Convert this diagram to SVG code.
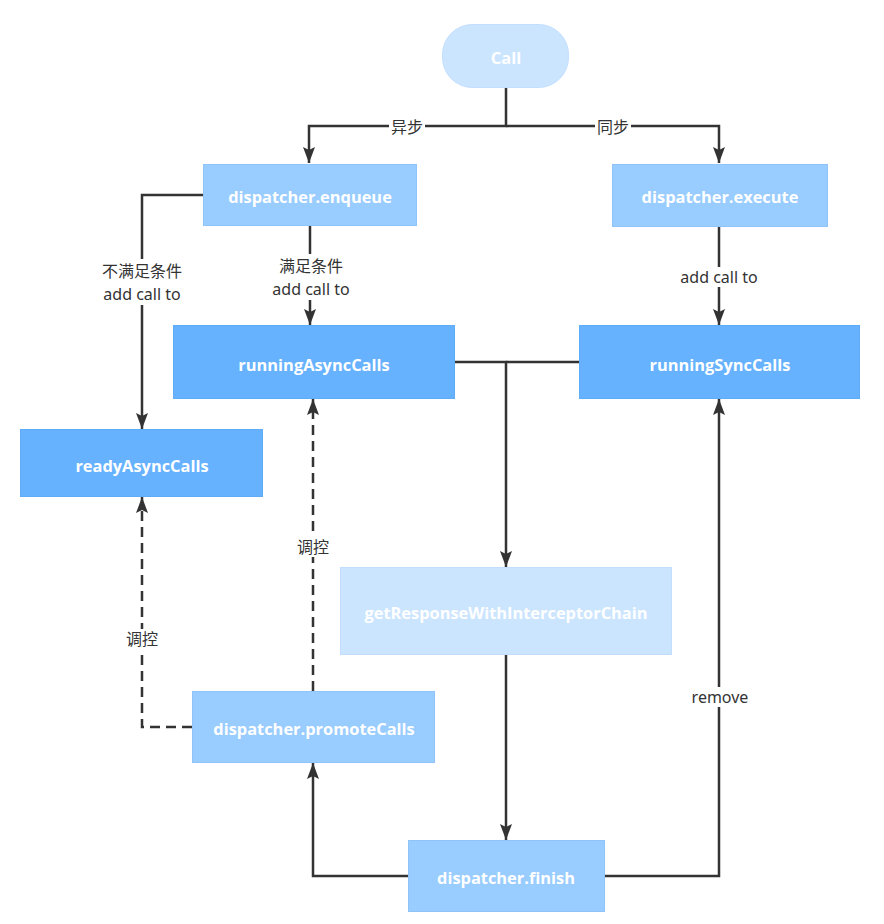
<svg xmlns="http://www.w3.org/2000/svg" width="884" height="924" viewBox="0 0 884 924">
<style>
.node text{font-family:"Open Sans","Liberation Sans",sans-serif;font-weight:bold;font-size:16.4px;fill:#ffffff;text-anchor:middle;dominant-baseline:central}
.n1{fill:#cce5ff;stroke:#c2deff;stroke-width:1}
.n2{fill:#99ccff;stroke:#8fc4fb;stroke-width:1}
.n3{fill:#66b2ff;stroke:#5eabf8;stroke-width:1}
.edge{fill:none;stroke:#333333;stroke-width:2.5}
.dash{stroke-dasharray:10 6}
.lbl{font-family:"Noto Sans","Noto Sans CJK SC","Liberation Sans",sans-serif;font-size:16px;fill:#333333;text-anchor:middle;dominant-baseline:central}
.lblbg{fill:#ffffff}
</style>
<defs>
<marker id="arr" viewBox="0 0 16 12" refX="16" refY="6" markerWidth="16" markerHeight="12" markerUnits="userSpaceOnUse" orient="auto">
<path d="M0,0 L16,6 L0,12 L3,6 Z" fill="#333333"/>
</marker>
</defs>
<rect width="884" height="924" fill="#ffffff"/>
<g id="connectors">
<path class="edge" d="M506,88 V126 H309 V163" marker-end="url(#arr)"/>
<path class="edge" d="M506,126 H719 V163" marker-end="url(#arr)"/>
<path class="edge" d="M203,195 H142 V429" marker-end="url(#arr)"/>
<path class="edge" d="M310,226 V325" marker-end="url(#arr)"/>
<path class="edge" d="M719,227 V325" marker-end="url(#arr)"/>
<path class="edge" d="M455,362 H506 V567" marker-end="url(#arr)"/>
<path class="edge" d="M580,362 H506"/>
<path class="edge" d="M506,655 V840" marker-end="url(#arr)"/>
<path class="edge" d="M408,876 H313 V763" marker-end="url(#arr)"/>
<path class="edge" d="M604,876 H719 V399" marker-end="url(#arr)"/>
<path class="edge dash" d="M192,727 H142 V497" marker-end="url(#arr)"/>
<path class="edge dash" d="M313,691 V399" marker-end="url(#arr)"/>
<rect class="lblbg" x="389" y="117" width="36" height="20"/>
<text class="lbl" x="407" y="127">异步</text>
<rect class="lblbg" x="595" y="117" width="36" height="20"/>
<text class="lbl" x="613" y="127">同步</text>
<rect class="lblbg" x="99" y="259" width="86" height="46"/>
<text class="lbl" x="142" y="271">不满足条件</text>
<text class="lbl" x="142" y="294">add call to</text>
<rect class="lblbg" x="268" y="254" width="86" height="46"/>
<text class="lbl" x="311" y="266">满足条件</text>
<text class="lbl" x="311" y="289">add call to</text>
<rect class="lblbg" x="677" y="267" width="86" height="20"/>
<text class="lbl" x="719" y="277">add call to</text>
<rect class="lblbg" x="124" y="629" width="36" height="20"/>
<text class="lbl" x="142" y="639">调控</text>
<rect class="lblbg" x="295" y="537" width="36" height="20"/>
<text class="lbl" x="313" y="547">调控</text>
<rect class="lblbg" x="689" y="687" width="62" height="20"/>
<text class="lbl" x="720" y="697">remove</text>
</g>
<g id="call" class="node"><rect class="n1" x="442.5" y="24.5" width="126" height="63" rx="30"/><text x="506" y="57">Call</text></g>
<g id="enqueue" class="node"><rect class="n2" x="203.5" y="164.5" width="213" height="61"/><text x="310" y="196">dispatcher.enqueue</text></g>
<g id="execute" class="node"><rect class="n2" x="612.5" y="164.5" width="215" height="62"/><text x="720" y="196">dispatcher.execute</text></g>
<g id="runningAsyncCalls" class="node"><rect class="n3" x="173.5" y="325.5" width="281" height="73"/><text x="314" y="364">runningAsyncCalls</text></g>
<g id="runningSyncCalls" class="node"><rect class="n3" x="579.5" y="325.5" width="280" height="73"/><text x="720" y="364">runningSyncCalls</text></g>
<g id="readyAsyncCalls" class="node"><rect class="n3" x="20.5" y="429.5" width="242" height="67"/><text x="142" y="465">readyAsyncCalls</text></g>
<g id="getResponse" class="node"><rect class="n1" x="340.5" y="567.5" width="331" height="87"/><text x="506" y="612">getResponseWithInterceptorChain</text></g>
<g id="promoteCalls" class="node"><rect class="n2" x="192.5" y="691.5" width="242" height="71"/><text x="314" y="728">dispatcher.promoteCalls</text></g>
<g id="finish" class="node"><rect class="n2" x="408.5" y="840.5" width="196" height="71"/><text x="506" y="877">dispatcher.finish</text></g>
</svg>
